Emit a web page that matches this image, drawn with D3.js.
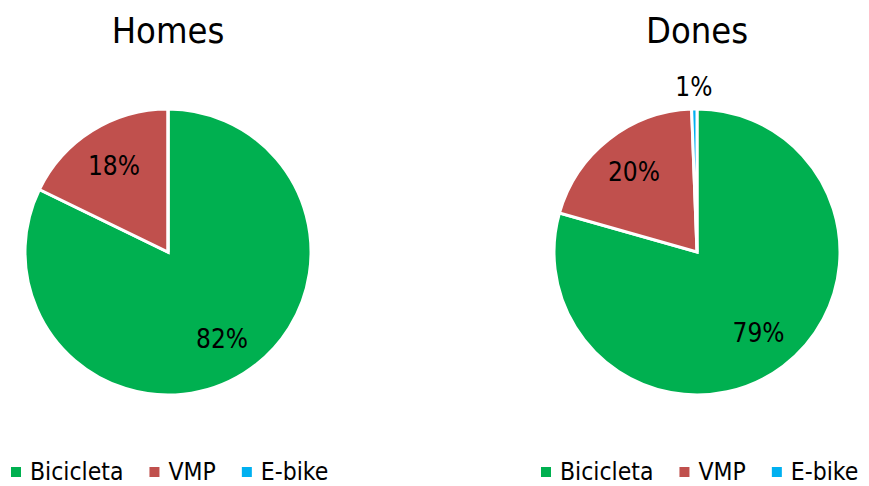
<!DOCTYPE html>
<html><head><meta charset="utf-8">
<script src="https://cdn.jsdelivr.net/npm/d3@7"></script>
<style>
html,body{margin:0;padding:0;background:#fff;}
text{font-family:"DejaVu Sans Condensed","DejaVu Sans",sans-serif;fill:#000;}
</style></head>
<body>
<svg id="chart" width="869" height="486"></svg>
<script>
const categories = ["Bicicleta", "VMP", "E-bike"];
const colors = ["#00B050", "#C0504D", "#00B0F0"];
const chartTitles = ["Homes", "Dones"];
const homesValues = [82.2, 17.8, 0.0];
const donesValues = [79.4, 20.0, 0.6];
const labelsHomes = ["82%", "18%", ""];
const labelsDones = ["79%", "20%", "1%"];

const svg = d3.select("#chart");
const R = 143;
const panels = [
  {title: chartTitles[0], values: homesValues, labels: labelsHomes, cx: 168, cy: 252, legendX: 11},
  {title: chartTitles[1], values: donesValues, labels: labelsDones, cx: 697, cy: 252, legendX: 541}
];

const pie = d3.pie().sort(null).value(d => d.v);
const arc = d3.arc().innerRadius(0).outerRadius(R);
const labelArc = d3.arc().innerRadius(102).outerRadius(102);
const outArc = d3.arc().innerRadius(R + 22).outerRadius(R + 22);

panels.forEach(p => {
  const data = categories.map((c, i) => ({c, v: p.values[i], color: colors[i], label: p.labels[i]}));
  const g = svg.append("g").attr("transform", `translate(${p.cx},${p.cy})`);
  const arcs = pie(data);
  g.selectAll("path").data(arcs).enter().append("path")
    .attr("d", arc)
    .attr("fill", d => d.data.color)
    .attr("stroke", "#fff")
    .attr("stroke-width", 3)
    .attr("stroke-linejoin", "miter");
  g.selectAll("text.lbl").data(arcs.filter(d => d.data.label)).enter().append("text")
    .attr("class", "lbl")
    .attr("transform", d => {
      const small = (d.endAngle - d.startAngle) < 0.2;
      const c = small ? outArc.centroid(d) : labelArc.centroid(d);
      return `translate(${c[0]},${c[1]})`;
    })
    .attr("text-anchor", "middle")
    .attr("dy", "0.35em")
    .style("font-size", "26px")
    .text(d => d.data.label);

  svg.append("text")
    .attr("x", p.cx).attr("y", 43)
    .attr("text-anchor", "middle")
    .style("font-size", "36px")
    .text(p.title);

  const lg = svg.append("g").attr("transform", `translate(${p.legendX},0)`);
  let x = 0;
  categories.forEach((c, i) => {
    lg.append("rect").attr("x", x).attr("y", 467).attr("width", 10).attr("height", 10).attr("fill", colors[i]);
    const t = lg.append("text").attr("x", x + 19).attr("y", 480).style("font-size", "24.5px").text(c);
    const w = t.node().getComputedTextLength();
    x = x + 19 + w + 26;
  });
});
</script>
</body></html>
